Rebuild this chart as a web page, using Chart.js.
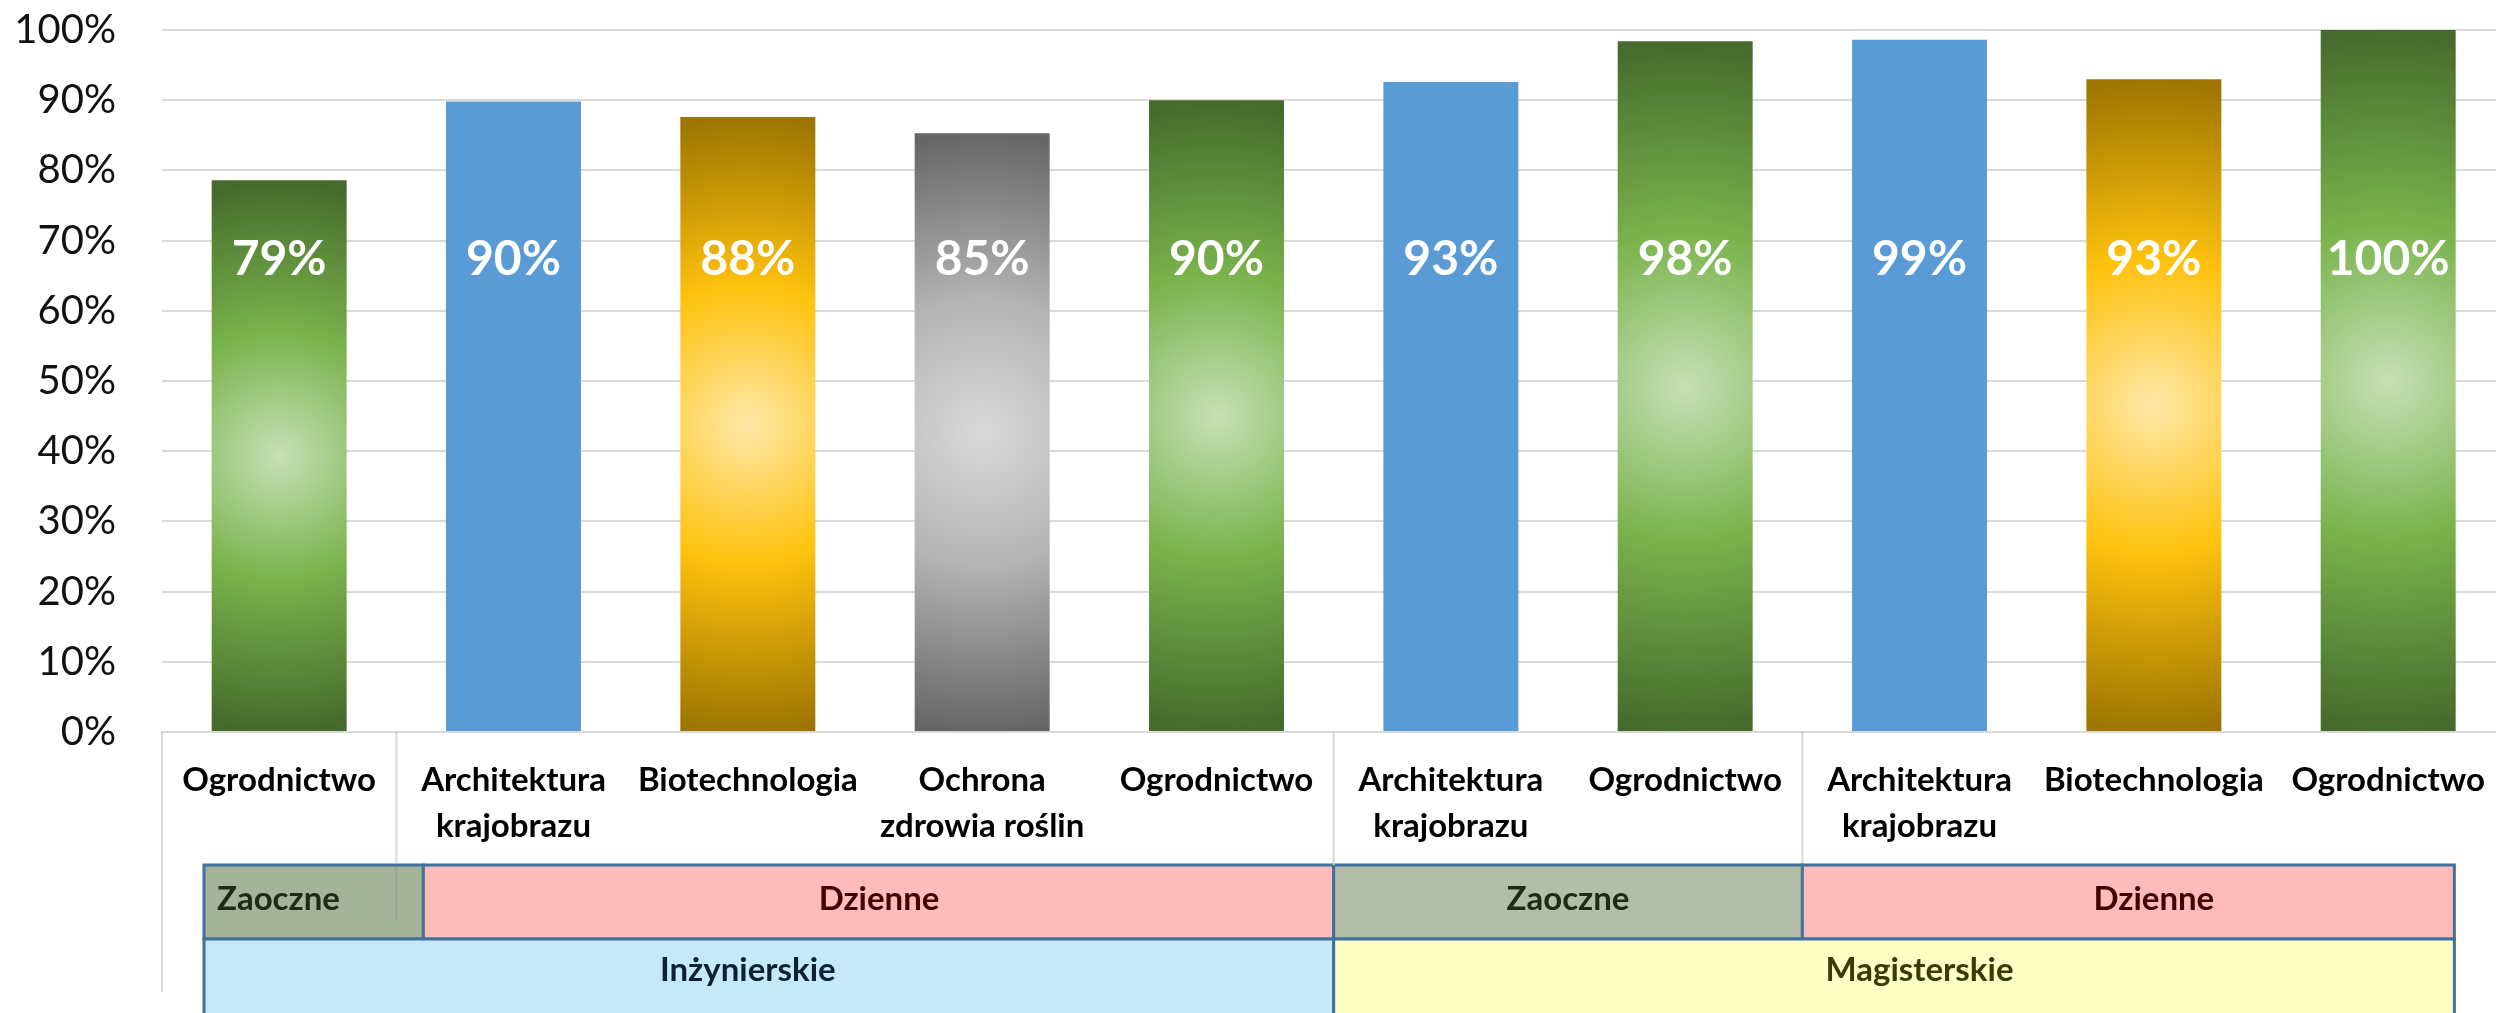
<!DOCTYPE html>
<html lang="pl">
<head>
<meta charset="utf-8">
<title>Wyniki kierunków</title>
<script src="https://cdn.jsdelivr.net/npm/chart.js@4.4.1/dist/chart.umd.min.js"></script>
<style>
  html, body { margin: 0; padding: 0; background: #fff; overflow: hidden; }
  #wrap { width: 2510px; height: 1013px; position: relative; }
</style>
</head>
<body>
<div id="wrap"><canvas id="wykres"></canvas></div>
<script>
// dane
const kierunki = [
  'Ogrodnictwo',
  ['Architektura', 'krajobrazu'],
  'Biotechnologia',
  ['Ochrona', 'zdrowia roślin'],
  'Ogrodnictwo',
  ['Architektura', 'krajobrazu'],
  'Ogrodnictwo',
  ['Architektura', 'krajobrazu'],
  'Biotechnologia',
  'Ogrodnictwo'
];
const wyniki = [78.6, 89.8, 87.6, 85.3, 90.0, 92.6, 98.4, 98.6, 93.0, 100];

const tryby = ['Zaoczne', 'Dzienne', 'Zaoczne', 'Dzienne'];
const trybyIle = [1, 4, 2, 3];            // ile kierunków w grupie
const poziomy = ['Inżynierskie', 'Magisterskie'];
const poziomyIle = [5, 5];

// wygląd
const rodzajeSlupkow = ['zielony', 'niebieski', 'zloty', 'szary', 'zielony',
                        'niebieski', 'zielony', 'niebieski', 'zloty', 'zielony'];
const wypelnienia = {
  zielony: ['#c6e0b6', '#7ab34c', '#456a2b'],
  zloty:   ['#fee8a8', '#ffc20e', '#9d7500'],
  szary:   ['#dadada', '#b3b3b3', '#666666']
};
const trybyKolory = {
  Zaoczne: ['#a5b398', '#b2bea8', '#1f2a12'],
  Dzienne: ['#fdbbbb', '#fdbbbb', '#450000']
};
const poziomyKolory = [['#c5e9f8', '#0b2233'], ['#ffffc5', '#3a3a05']];
const FONT = 'Lato, "Open Sans", sans-serif';

function kolorSlupka(ctx) {
  const i = ctx.dataIndex;
  const rodzaj = rodzajeSlupkow[i];
  if (rodzaj === 'niebieski') return '#5b9bd5';
  const chart = ctx.chart;
  const sx = chart.scales.x, sy = chart.scales.y;
  if (!chart.chartArea || !sx || !sy) return wypelnienia[rodzaj][1];
  const x = sx.getPixelForValue(i);
  const gora = sy.getPixelForValue(wyniki[i]);
  const dol = sy.getPixelForValue(0);
  const cy = (gora + dol) / 2, r = (dol - gora) / 2;
  const g = chart.ctx.createRadialGradient(x, cy, 0, x, cy, r);
  const [c0, c1, c2] = wypelnienia[rodzaj];
  g.addColorStop(0, c0);
  g.addColorStop(0.45, c1);
  g.addColorStop(1, c2);
  return g;
}

// etykiety wartości w słupkach
const etykietyWartosci = {
  id: 'etykietyWartosci',
  afterDatasetsDraw(chart) {
    const ctx = chart.ctx;
    const sy = chart.scales.y;
    const y = sy.getPixelForValue(67.3);
    ctx.save();
    ctx.font = 'bold 48px ' + FONT;
    ctx.fillStyle = '#fff';
    ctx.textAlign = 'center';
    ctx.textBaseline = 'middle';
    chart.getDatasetMeta(0).data.forEach((bar, i) => {
      ctx.fillText(Math.round(wyniki[i]) + '%', bar.x, y);
    });
    ctx.restore();
  }
};

// krawędzie grup na osi X
function krawedzie(sx, ile) {
  const w = (sx.right - sx.left) / kierunki.length;
  const e = [sx.left];
  let s = 0;
  ile.forEach(n => { s += n; e.push(sx.left + s * w); });
  return e;
}

const grupyOsi = {
  id: 'grupyOsi',
  afterDraw(chart) {
    const ctx = chart.ctx;
    const sx = chart.scales.x;
    const dolWykresu = chart.chartArea.bottom;
    const wiersz1 = dolWykresu + 133, wiersz2 = dolWykresu + 207, h = 74;

    const eT = krawedzie(sx, trybyIle);
    const eP = krawedzie(sx, poziomyIle);
    const pudlaT = eT.slice();
    pudlaT[0] += 42; pudlaT[pudlaT.length - 1] -= 51; pudlaT[1] += 27;
    const pudlaP = eP.slice();
    pudlaP[0] += 42; pudlaP[pudlaP.length - 1] -= 51;

    ctx.save();
    ctx.lineWidth = 3;
    ctx.strokeStyle = '#41719c';
    ctx.font = 'bold 33px ' + FONT;
    ctx.textBaseline = 'middle';

    tryby.forEach((t, i) => {
      const x0 = pudlaT[i], x1 = pudlaT[i + 1];
      const kol = trybyKolory[t];
      ctx.fillStyle = i === 0 ? kol[0] : kol[1];
      ctx.fillRect(x0, wiersz1, x1 - x0, h);
      ctx.strokeRect(x0, wiersz1, x1 - x0, h);
      ctx.fillStyle = kol[2];
      if (i === 0) {
        ctx.textAlign = 'left';
        ctx.fillText(t, x0 + 13, wiersz1 + h / 2 - 3);
      } else {
        ctx.textAlign = 'center';
        ctx.fillText(t, (eT[i] + eT[i + 1]) / 2 + (i === 1 ? 14 : 0), wiersz1 + h / 2 - 3);
      }
    });

    poziomy.forEach((p, i) => {
      const x0 = pudlaP[i], x1 = pudlaP[i + 1];
      ctx.fillStyle = poziomyKolory[i][0];
      ctx.fillRect(x0, wiersz2, x1 - x0, h + 4);
      ctx.strokeRect(x0, wiersz2, x1 - x0, h + 4);
      ctx.fillStyle = poziomyKolory[i][1];
      ctx.textAlign = 'center';
      ctx.fillText(p, (eP[i] + eP[i + 1]) / 2, wiersz2 + h / 2 - 6);
    });

    // linie podziału kategorii
    ctx.lineWidth = 2;
    ctx.strokeStyle = 'rgba(128,128,128,0.3)';
    const linia = (x, do_) => {
      ctx.beginPath();
      ctx.moveTo(x, dolWykresu);
      ctx.lineTo(x, do_);
      ctx.stroke();
    };
    linia(sx.left, dolWykresu + 260);
    linia(eT[1], dolWykresu + 188);
    linia(eT[3], dolWykresu + 188);
    ctx.strokeStyle = '#d9d9d9';
    linia(eP[1], wiersz1);
    ctx.restore();
  }
};

const ctx = document.getElementById('wykres').getContext('2d');

new Chart(ctx, {
  type: 'bar',
  data: {
    labels: kierunki,
    datasets: [{
      data: wyniki,
      backgroundColor: kolorSlupka,
      borderWidth: 0,
      barPercentage: 0.576,
      categoryPercentage: 1
    }]
  },
  options: {
    responsive: true,
    maintainAspectRatio: false,
    animation: false,
    layout: { padding: { top: 30, left: 13, right: 0, bottom: 164 } },
    plugins: {
      legend: { display: false },
      tooltip: { enabled: false }
    },
    scales: {
      x: {
        grid: { display: false, drawTicks: false },
        border: { display: true, color: '#d9d9d9', width: 2 },
        ticks: {
          autoSkip: false,
          maxRotation: 0,
          padding: 25,
          color: '#000',
          font: { family: FONT, size: 33, weight: 'bold', lineHeight: 1.4 }
        },
        afterFit(scale) { scale.height = 117; }
      },
      y: {
        min: 0,
        max: 100,
        grid: { color: '#d9d9d9', lineWidth: 2, drawTicks: false },
        border: { display: false },
        ticks: {
          stepSize: 10,
          padding: 46,
          color: '#111',
          font: { family: FONT, size: 40 },
          callback: v => v + '%'
        },
        afterFit(scale) {
          scale.width = 149;
          scale.paddingTop = 0;
          scale.paddingBottom = 0;
        }
      }
    }
  },
  plugins: [etykietyWartosci, grupyOsi]
});
</script>
</body>
</html>
